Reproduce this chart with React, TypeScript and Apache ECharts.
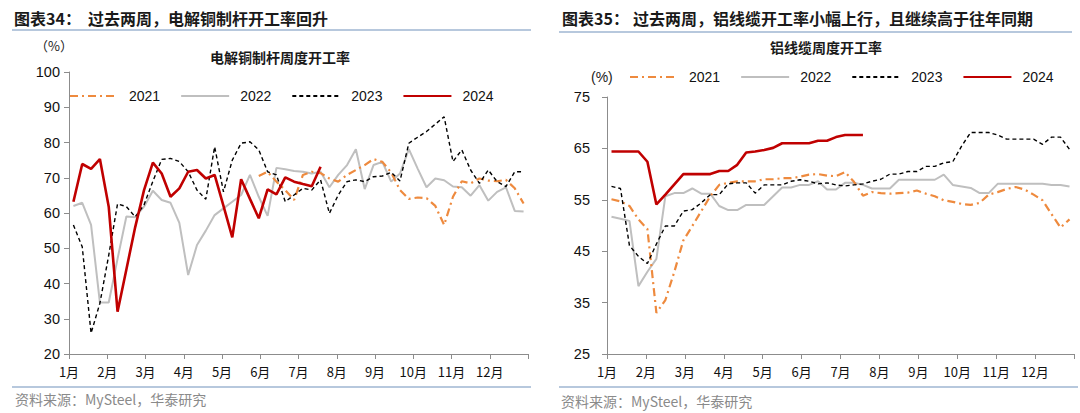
import React, { useEffect, useRef } from "react";
import * as echarts from "echarts";

// ---------- data (weekly values, week index 0 = first week of January) ----------
const MONTH_LABELS = ["1月", "2月", "3月", "4月", "5月", "6月", "7月", "8月", "9月", "10月", "11月", "12月"];
const SERIES_NAMES = ["2021", "2022", "2023", "2024"];

// Left chart: 电解铜制杆周度开工率 (%)
const LEFT_Y_TICKS = [20, 30, 40, 50, 60, 70, 80, 90, 100];
const left2021Start = 21;
const left2021 = [70.5, 71.7, 68.9, 66.5, 63.7, 70.8, 71.7, 71.3, 69.8, 68.9, 70.8, 72.2, 73.6, 75.3, 74.5, 71.5, 66.5, 64, 64.4, 64.2, 62, 56.6, 64.6, 69, 68.4, 69.8, 69.2, 69, 69.4, 67, 62.7];
const left2022 = [62, 62.9, 56.6, 34.6, 34.6, 47, 59, 58.8, 61.8, 66.3, 63.7, 62.9, 57.2, 42.4, 50.9, 55, 59.4, 61.3, 63.2, 65.1, 70.8, 64.6, 59.2, 72.8, 72.4, 71.9, 71.7, 71.2, 71.7, 67.3, 70.8, 73.6, 78.1, 66.8, 73.6, 74.5, 68.9, 71.2, 78.1, 72.6, 67.3, 69.8, 69.3, 67.5, 67.3, 64.9, 67.9, 63.5, 66, 67.3, 60.6, 60.4];
const left2023 = [56.6, 50.4, 25.9, 34.4, 48, 62.6, 61.8, 58.9, 62.3, 69, 75.2, 75.5, 74.6, 71.7, 66.5, 63.9, 78.8, 66, 75, 79.8, 80.2, 77.9, 71.7, 70.8, 63.2, 65.1, 67, 66.5, 69.4, 59.9, 65.1, 68.9, 69.4, 68.9, 70.3, 70.5, 71.5, 69.1, 79.8, 81.5, 83.1, 85.2, 87.3, 74.6, 77.9, 72.2, 68.4, 72.2, 68.9, 67.5, 71.7, 71.7];
const left2024 = [63.2, 73.9, 72.5, 75.3, 61.8, 32, 44, 56, 66.5, 74.3, 71.2, 64.6, 67, 71.7, 72.2, 69.8, 70.8, 62, 53.1, 69.6, 64, 58.5, 66.7, 65.3, 70.1, 68.9, 68.2, 67.6, 73.1];

// Right chart: 铝线缆周度开工率 (%)
const RIGHT_Y_TICKS = [25, 35, 45, 55, 65, 75];
const right2021 = [55.1, 54.7, 53.8, 51.2, 49.3, 33, 35.5, 41, 47.1, 49.9, 52.8, 55.7, 57.9, 58.3, 58.6, 58.6, 58.6, 59, 59, 59.2, 59.2, 59.5, 59.9, 60, 59.7, 59.6, 60.4, 58.5, 55.8, 56.5, 56.3, 56.2, 56.3, 56.4, 56.8, 56.2, 55.7, 54.9, 54.6, 54.2, 54, 54.4, 56, 56.5, 57.1, 57.5, 57, 56, 54.9, 52.2, 49.6, 51.2];
const right2022 = [51.7, 51.3, 50.9, 38.2, 41, 43.5, 55.7, 56.3, 56.3, 57.2, 56.2, 56.2, 53.8, 53, 53, 54, 54, 54, 55.7, 57.4, 57.4, 57.9, 57.9, 58.6, 57, 57, 58.3, 58.3, 57.9, 57.2, 57.2, 57.2, 58.9, 58.9, 58.9, 58.9, 58.9, 59.9, 57.9, 57.6, 57.3, 56.3, 56.3, 58.1, 58.1, 58.1, 58.1, 58.1, 58.1, 57.9, 57.9, 57.6];
const right2023 = [57.6, 57.2, 46.1, 44, 42.6, 46.4, 49.9, 49.9, 52.8, 53.1, 54.4, 56, 56, 58.1, 58.3, 58.3, 56.3, 57.9, 57.9, 57.9, 58.6, 58.9, 58.6, 58.1, 58.3, 57.9, 57.7, 57.9, 58.1, 58.6, 59, 60, 60, 60.5, 60.5, 61.5, 61.5, 62.2, 62.4, 65.5, 68.1, 68.1, 68.1, 67.6, 66.8, 66.8, 66.8, 66.8, 65.8, 67.2, 67.2, 64.8];
const right2024 = [64.4, 64.4, 64.4, 64.4, 62.4, 54.1, 56, 58, 60, 60, 60, 60, 60.6, 60.6, 61.8, 64.2, 64.4, 64.7, 65.1, 66, 66, 66, 66, 66.5, 66.5, 67.2, 67.6, 67.6, 67.6];

const WEEKS_PER_YEAR = 52;
const MONTHS = 12;
const MONTH_TICKS = [0, 1, 2, 3, 4, 5, 6, 7, 8, 9, 10, 11, 12];

// week index -> position on a month-scaled value axis (mid-week)
const toPoints = (vals: number[], start = 0) =>
  vals.map((v, i) => [((i + start + 0.5) * MONTHS) / WEEKS_PER_YEAR, v]);

const FONT = "'Liberation Sans', Arial, 'Noto Sans CJK SC', sans-serif";
const CJK = "'Noto Sans CJK SC', 'Liberation Sans', sans-serif";

const COLORS = {
  y2021: "#EE8A3E",
  y2022: "#BFBFBF",
  y2023: "#000000",
  y2024: "#C00000",
  axis: "#8C8C8C",
  rule: "#9FB6D2",
};

const styleFor = (name: string) => {
  switch (name) {
    case "2021":
      return { color: COLORS.y2021, width: 2.2, type: [8, 4, 2, 4] as any };
    case "2022":
      return { color: COLORS.y2022, width: 2, type: "solid" as any };
    case "2023":
      return { color: COLORS.y2023, width: 1.4, type: [4, 3] as any };
    default:
      return { color: COLORS.y2024, width: 2.6, type: "solid" as any };
  }
};

const lineSeries = (name: string, data: number[][], axisIdx: number, z: number) => ({
  type: "line",
  name,
  xAxisIndex: axisIdx,
  yAxisIndex: axisIdx,
  data,
  symbol: "none",
  showSymbol: false,
  smooth: false,
  z,
  color: styleFor(name).color,
  lineStyle: styleFor(name),
  emphasis: { disabled: true },
});

const xAxisFor = (gridIndex: number) => ({
  type: "value",
  gridIndex,
  min: 0,
  max: MONTHS,
  interval: 1,
  axisLine: { show: true, lineStyle: { color: COLORS.axis, width: 1 } },
  axisTick: { show: true, length: 5, lineStyle: { color: COLORS.axis }, customValues: MONTH_TICKS },
  axisLabel: {
    show: true,
    margin: 11,
    fontSize: 13,
    color: "#111",
    fontFamily: CJK,
    customValues: MONTH_TICKS.slice(0, MONTHS),
    formatter: (v: number) => MONTH_LABELS[Math.round(v)] ?? "",
  },
  splitLine: { show: false },
});

const yAxisFor = (gridIndex: number, ticks: number[], fontSize: number, margin: number) => ({
  type: "value",
  gridIndex,
  min: ticks[0],
  max: ticks[ticks.length - 1],
  axisLine: { show: true, lineStyle: { color: COLORS.axis, width: 1 } },
  axisTick: { show: true, length: 5, lineStyle: { color: COLORS.axis }, customValues: ticks },
  axisLabel: { show: true, margin, fontSize, color: "#111", fontFamily: FONT, customValues: ticks },
  splitLine: { show: false },
});

const legendFor = (left: number, top: number) => ({
  left,
  top,
  padding: 0,
  orient: "horizontal",
  itemWidth: 48,
  itemHeight: 14,
  itemGap: 20,
  data: SERIES_NAMES,
  selectedMode: false,
  itemStyle: { opacity: 0 },
  textStyle: { fontSize: 14, color: "#111", fontFamily: FONT, padding: [0, 0, 0, 6] },
});

const txt = (x: number, y: number, text: string, fontSize: number, opts: any = {}) => ({
  type: "text",
  x,
  y,
  silent: true,
  style: {
    text,
    fontSize,
    fontFamily: opts.fontFamily ?? CJK,
    fontWeight: opts.fontWeight ?? "normal",
    fill: opts.fill ?? "#1a1a1a",
    textAlign: opts.align ?? "left",
    textVerticalAlign: "middle",
  },
});

const rule = (x1: number, x2: number, y: number) => ({
  type: "line",
  silent: true,
  shape: { x1, y1: y, x2, y2: y },
  style: { stroke: COLORS.rule, lineWidth: 1.5 },
});

export default function App() {
  const ref = useRef<HTMLDivElement>(null);

  useEffect(() => {
    if (!ref.current) return;
    const chart = echarts.init(ref.current, undefined, { renderer: "svg" });
    const option = {
      animation: false,
      backgroundColor: "#ffffff",
      grid: [
        { left: 69, top: 72, width: 459, height: 282, containLabel: false },
        { left: 607, top: 97, width: 467, height: 257, containLabel: false },
      ],
      xAxis: [xAxisFor(0), xAxisFor(1)],
      yAxis: [yAxisFor(0, LEFT_Y_TICKS, 14.5, 9), yAxisFor(1, RIGHT_Y_TICKS, 14.5, 17)],
      legend: [legendFor(69, 89), legendFor(629, 70)],
      series: [
        lineSeries("2022", toPoints(left2022), 0, 2),
        lineSeries("2021", toPoints(left2021, left2021Start), 0, 3),
        lineSeries("2023", toPoints(left2023), 0, 4),
        lineSeries("2024", toPoints(left2024), 0, 5),
        lineSeries("2022", toPoints(right2022), 1, 2),
        lineSeries("2021", toPoints(right2021), 1, 3),
        lineSeries("2023", toPoints(right2023), 1, 4),
        lineSeries("2024", toPoints(right2024), 1, 5),
      ],
      graphic: [
        txt(14, 18, "图表34：", 16, { fontWeight: "bold" }),
        txt(88, 18, "过去两周，电解铜制杆开工率回升", 16, { fontWeight: "bold" }),
        rule(12, 531, 30),
        txt(35, 45, "（%）", 13),
        txt(280, 57, "电解铜制杆周度开工率", 14, { fontWeight: "bold", align: "center" }),
        rule(12, 531, 387),
        txt(15, 399, "资料来源：MySteel，华泰研究", 14, { fill: "#8a8a8a" }),

        txt(562, 18, "图表35：", 16, { fontWeight: "bold" }),
        txt(633, 18, "过去两周，铝线缆开工率小幅上行，且继续高于往年同期", 16, { fontWeight: "bold" }),
        rule(559, 1072, 32),
        txt(826, 47, "铝线缆周度开工率", 14, { fontWeight: "bold", align: "center" }),
        txt(591, 77, "(%)", 14, { fontFamily: FONT }),
        rule(559, 1078, 387),
        txt(561, 401, "资料来源：MySteel，华泰研究", 14, { fill: "#8a8a8a" }),
      ],
    };
    chart.setOption(option as any);
    return () => chart.dispose();
  }, []);

  return (
    <div
      ref={ref}
      style={{ position: "fixed", left: 0, top: 0, width: 1080, height: 413, background: "#fff" }}
    />
  );
}
